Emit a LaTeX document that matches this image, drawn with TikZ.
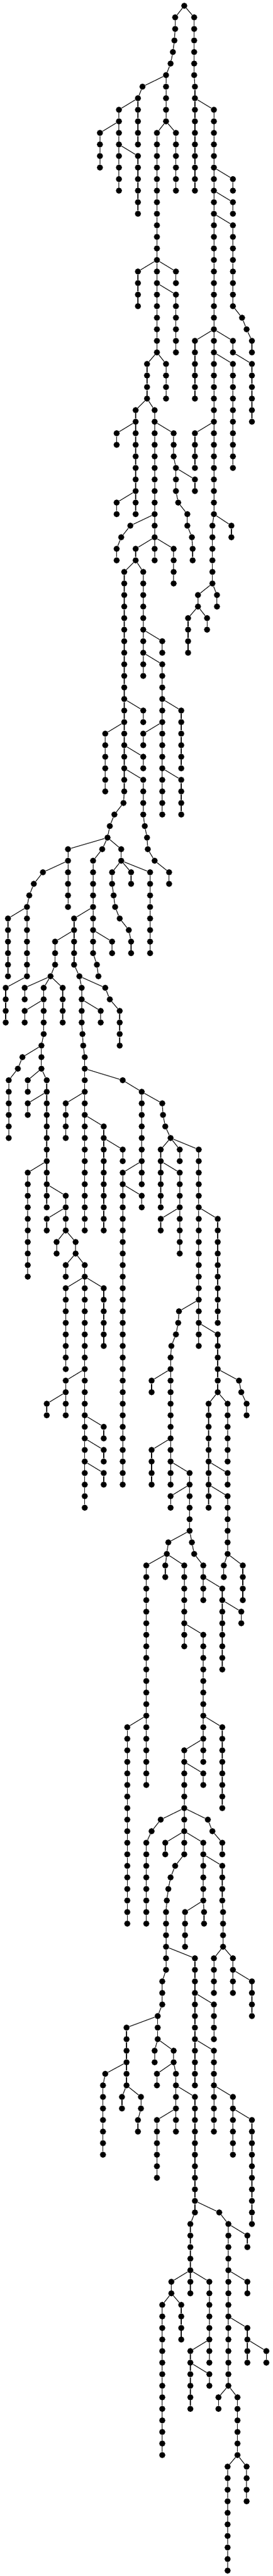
\documentclass[tikz,border=0pt]{standalone}
% column / first level / last level / column of the parent
\newcommand{\treeruns}{
	922/1/2/970, 918/3/3/922, 910/4/4/918, 898/5/5/910, 874/6/10/898,
	750/7/7/874, 726/8/12/750, 626/9/16/726, 526/11/14/626, 726/13/18/626,
	826/11/30/874, 926/11/16/874, 726/23/26/826, 926/23/24/826, 926/25/30/826,
	774/31/34/826, 874/31/34/826, 714/35/44/774, 614/37/38/714, 614/43/44/714,
	814/35/48/774, 914/37/39/814, 926/40/42/914, 1026/41/42/926, 938/43/43/926,
	986/44/45/938, 1010/46/46/986, 1014/47/48/1010, 686/45/45/814, 638/46/46/686,
	614/47/48/638, 714/47/48/814, 914/47/50/814, 654/49/68/714, 754/49/58/714,
	854/55/56/754, 854/57/70/754, 954/61/66/854, 754/63/64/854, 954/67/70/854,
	754/61/62/654, 554/63/68/654, 754/65/66/654, 754/67/70/654, 762/71/71/754,
	774/72/72/762, 778/73/73/774, 814/74/74/778, 890/75/76/814, 650/69/69/654,
	602/70/70/650, 578/71/71/602, 566/72/72/578, 358/73/78/566, 538/73/73/566,
	638/73/74/566, 226/75/75/358, 178/76/76/226, 154/77/77/178, 142/78/84/154,
	42/79/84/142, 30/85/88/142, 590/75/76/638, 598/77/77/590, 606/78/78/598,
	630/79/79/606, 678/80/80/630, 690/81/82/678, 690/75/76/638, 790/75/82/638,
	490/74/82/538, 390/79/83/490, 590/81/82/490, 510/83/83/490, 518/84/84/510,
	290/81/83/390, 266/84/84/290, 130/85/86/266, 230/85/89/266, 330/85/88/266,
	130/87/88/230, 218/90/92/230, 118/91/91/218, 94/92/92/118, 46/93/98/94,
	146/93/94/218, 246/93/104/218, 146/95/96/246, 146/101/110/246, 346/103/106/246,
	246/105/106/346, 298/107/108/346, 398/107/108/346, 346/109/110/398, 446/109/130/398,
	346/111/118/446, 546/111/116/446, 346/119/122/446, 246/121/122/346, 546/123/124/446,
	546/125/126/446, 546/127/128/446, 418/84/84/390, 430/85/88/418, 530/87/88/430,
	554/85/85/418, 578/86/86/554, 630/87/90/578, 434/89/89/430, 438/90/90/434,
	446/91/106/438, 346/95/98/446, 546/97/106/446, 646/99/100/546, 646/93/93/446,
	746/94/102/646, 646/101/128/746, 746/103/104/646, 854/95/95/746, 858/96/96/854,
	870/97/97/858, 898/98/98/870, 846/99/104/898, 946/99/100/898, 946/101/108/846,
	846/105/106/946, 1046/99/116/898, 1146/105/114/1046, 942/113/113/1046, 938/114/114/942,
	926/115/115/938, 902/116/116/926, 898/117/128/902, 798/119/120/898, 798/125/128/898,
	998/127/132/898, 898/129/130/998, 886/133/133/998, 878/134/134/886, 770/135/154/878,
	870/135/136/878, 970/135/142/878, 670/149/166/770, 1070/141/152/970, 1170/149/156/1070,
	970/151/160/1070, 1070/153/154/970, 846/157/157/970, 798/158/158/846, 770/159/166/798,
	1094/157/157/970, 1118/158/158/1094, 1170/159/160/1118, 870/159/160/970, 1070/159/164/970,
	1170/161/164/1070, 1174/165/168/1170, 974/165/168/1070, 1074/165/166/1070, 922/161/161/970,
	898/162/162/922, 886/163/163/898, 878/164/164/886, 874/165/170/878, 1026/169/180/874,
	1126/173/176/1026, 1126/177/184/1026, 1226/181/186/1126, 1326/183/192/1226, 1126/169/172/1174,
	1226/169/172/1174, 1326/171/174/1226, 854/171/173/874, 830/174/176/854, 666/175/180/830,
	554/179/179/666, 542/180/186/554, 642/181/182/666, 742/181/182/666, 726/183/184/742,
	814/177/178/830, 914/177/178/830, 826/179/180/914, 926/179/184/914, 1026/181/191/926,
	826/183/188/926, 1154/191/191/1026, 1202/192/206/1154, 1302/193/194/1202, 1302/197/198/1202,
	1302/201/204/1202, 1402/203/204/1302, 1150/207/208/1202, 1250/207/212/1202, 1198/213/222/1250,
	1298/213/216/1250, 1002/192/196/1026, 902/197/198/1002, 1002/197/198/1002, 1102/197/204/1002,
	1002/203/208/1102, 1102/205/206/1002, 854/199/212/902, 954/199/202/902,
	1022/1/6/970, 1026/7/16/1022, 1126/9/44/1026, 1226/15/16/1126, 1226/17/18/1126,
	1226/19/26/1126, 1274/27/27/1226, 1298/28/28/1274, 1326/29/30/1298, 1026/29/34/1126,
	1226/29/30/1126, 1326/31/36/1226, 1226/31/40/1126, 1026/37/40/1126, 1118/45/50/1126,
	1218/45/46/1126, 1042/51/52/1118, 1142/51/52/1118, 990/53/56/1042, 1090/53/54/1042,
	1146/115/120/1046, 1258/119/119/1146, 1270/120/120/1258, 1298/121/122/1270, 1198/121/126/1146,
	1098/121/130/1146, 1198/127/128/1098, 1198/129/134/1098, 1178/135/136/1198, 1278/135/138/1198,
	1010/133/133/998, 1022/134/134/1010, 1070/135/138/1022, 1170/137/144/1070, 1270/139/140/1170}
\begin{document}
\begin{tikzpicture}
	[x=0.33333pt,y=-20.2667pt,
	dot/.style={circle,fill=black,inner sep=0pt,minimum size=10.7pt},
	edge/.style={black,line width=1.1pt}]
	\useasboundingbox (0,-0.5017) rectangle (1434,222.47);
	\node[dot,name=n970-0]at(970,0){};
	\foreach \x/\a/\b/\p in \treeruns {
		\foreach \l in {\a,...,\b} {
			\pgfmathtruncatemacro{\prev}{\l-1}
			\ifnum\l=\a \edef\from{\p}\else \edef\from{\x}\fi
			\node[dot,name=n\x-\l]at(\x,\l){};
			\draw[edge] (n\from-\prev) -- (n\x-\l);
		}
	}
\end{tikzpicture}
\end{document}
